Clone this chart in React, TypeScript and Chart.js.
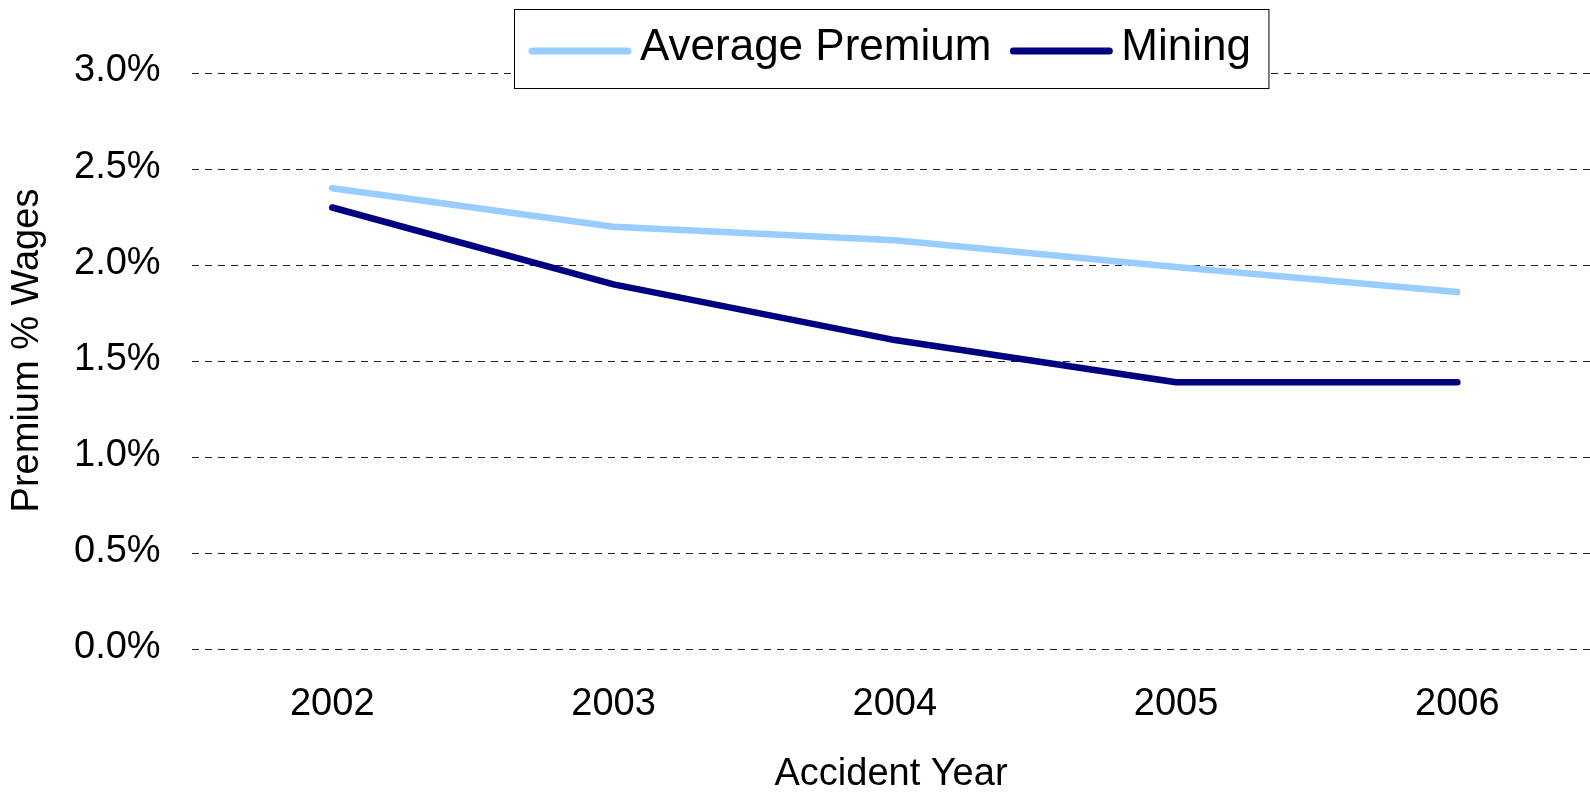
import React, { useEffect, useRef } from "react";
import { Chart, registerables } from "chart.js";

Chart.register(...registerables);

const years = ["2002", "2003", "2004", "2005", "2006"];
const averagePremium = [2.4, 2.2, 2.13, 1.99, 1.86];
const mining = [2.3, 1.9, 1.61, 1.39, 1.39];
const seriesLabels = ["Average Premium", "Mining"];
const seriesColors = ["#99CCFF", "#000080"];
const xTitle = "Accident Year";
const yTitle = "Premium % Wages";
const yMin = 0;
const yMax = 3;
const yStep = 0.5;

const FONT = "'Liberation Sans', Arial, Helvetica, sans-serif";

const boxLegend = {
  id: "boxLegend",
  afterDraw(chart: any) {
    const ctx = chart.ctx as CanvasRenderingContext2D;
    ctx.save();
    ctx.font = `44px ${FONT}`;
    const ds = chart.data.datasets;
    const lineLen = 96;
    const padL = 17.5;
    const gapText = 12;
    const gapItem = 22;
    const padR = 18;
    const widths = ds.map((d: any) => ctx.measureText(d.label).width);
    let total = padL;
    ds.forEach((d: any, i: number) => {
      total += lineLen + gapText + widths[i];
      if (i < ds.length - 1) total += gapItem;
    });
    total += padR;
    const cx = 891;
    const left = Math.round(cx - total / 2) + 0.5;
    const top = 9.5;
    const h = 79;
    ctx.fillStyle = "#ffffff";
    ctx.fillRect(left, top, total, h);
    ctx.strokeStyle = "#000000";
    ctx.lineWidth = 1;
    ctx.strokeRect(left, top, total, h);
    let x = left + padL;
    ds.forEach((d: any, i: number) => {
      ctx.beginPath();
      ctx.strokeStyle = d.borderColor;
      ctx.lineWidth = 7;
      ctx.lineCap = "round";
      ctx.moveTo(x, 51);
      ctx.lineTo(x + lineLen, 51);
      ctx.stroke();
      x += lineLen + gapText;
      ctx.fillStyle = "#000000";
      ctx.textBaseline = "alphabetic";
      ctx.textAlign = "left";
      ctx.fillText(d.label, x, 60);
      x += widths[i] + gapItem;
    });
    ctx.restore();
  },
};

const axisTitles = {
  id: "axisTitles",
  afterDraw(chart: any) {
    const ctx = chart.ctx as CanvasRenderingContext2D;
    ctx.save();
    ctx.fillStyle = "#000000";
    ctx.font = `38px ${FONT}`;
    ctx.textAlign = "center";
    ctx.textBaseline = "alphabetic";
    ctx.fillText(xTitle, 891, 785);
    ctx.font = `38px ${FONT}`;
    ctx.translate(27.5, 350.5);
    ctx.rotate(-Math.PI / 2);
    ctx.textAlign = "center";
    ctx.textBaseline = "middle";
    ctx.fillText(yTitle, 0, 0);
    ctx.restore();
  },
};

export default function App() {
  const canvasRef = useRef<HTMLCanvasElement | null>(null);

  useEffect(() => {
    const canvas = canvasRef.current;
    if (!canvas) return;
    const chart = new Chart(canvas, {
      type: "line",
      data: {
        labels: years,
        datasets: [
          {
            label: seriesLabels[0],
            data: averagePremium,
            borderColor: seriesColors[0],
            backgroundColor: seriesColors[0],
            borderWidth: 6.5,
            borderCapStyle: "round",
            borderJoinStyle: "round",
            pointRadius: 0,
            tension: 0,
            fill: false,
          },
          {
            label: seriesLabels[1],
            data: mining,
            borderColor: seriesColors[1],
            backgroundColor: seriesColors[1],
            borderWidth: 6.5,
            borderCapStyle: "round",
            borderJoinStyle: "round",
            pointRadius: 0,
            tension: 0,
            fill: false,
          },
        ],
      },
      options: {
        responsive: false,
        animation: false,
        devicePixelRatio: 1,
        layout: { padding: { top: 73, right: 2, left: 43, bottom: 33 } },
        plugins: {
          legend: { display: false },
          tooltip: { enabled: false },
        },
        scales: {
          x: {
            offset: true,
            grid: { display: false, drawTicks: false },
            border: { display: false },
            ticks: {
              color: "#000",
              font: { family: FONT, size: 38 },
              padding: 32,
              maxRotation: 0,
            },
            title: { display: false },
          },
          y: {
            min: yMin,
            max: yMax,
            ticks: {
              stepSize: yStep,
              color: "#000",
              font: { family: FONT, size: 38 },
              padding: 31,
              labelOffset: -2,
              callback: (v: any) => Number(v).toFixed(1) + "%",
            },
            grid: {
              color: "#222",
              lineWidth: 1,
              drawTicks: false,
            },
            border: { display: false, dash: [7, 6] },
            title: { display: false },
          },
        },
      },
      plugins: [boxLegend, axisTitles],
    });
    return () => chart.destroy();
  }, []);

  return (
    <div
      style={{
        position: "fixed",
        left: 0,
        top: 0,
        width: 1590,
        height: 792,
        overflow: "hidden",
        background: "#fff",
      }}
    >
      <canvas
        ref={canvasRef}
        width={1600}
        height={792}
        style={{ width: 1600, height: 792, display: "block" }}
      />
    </div>
  );
}
